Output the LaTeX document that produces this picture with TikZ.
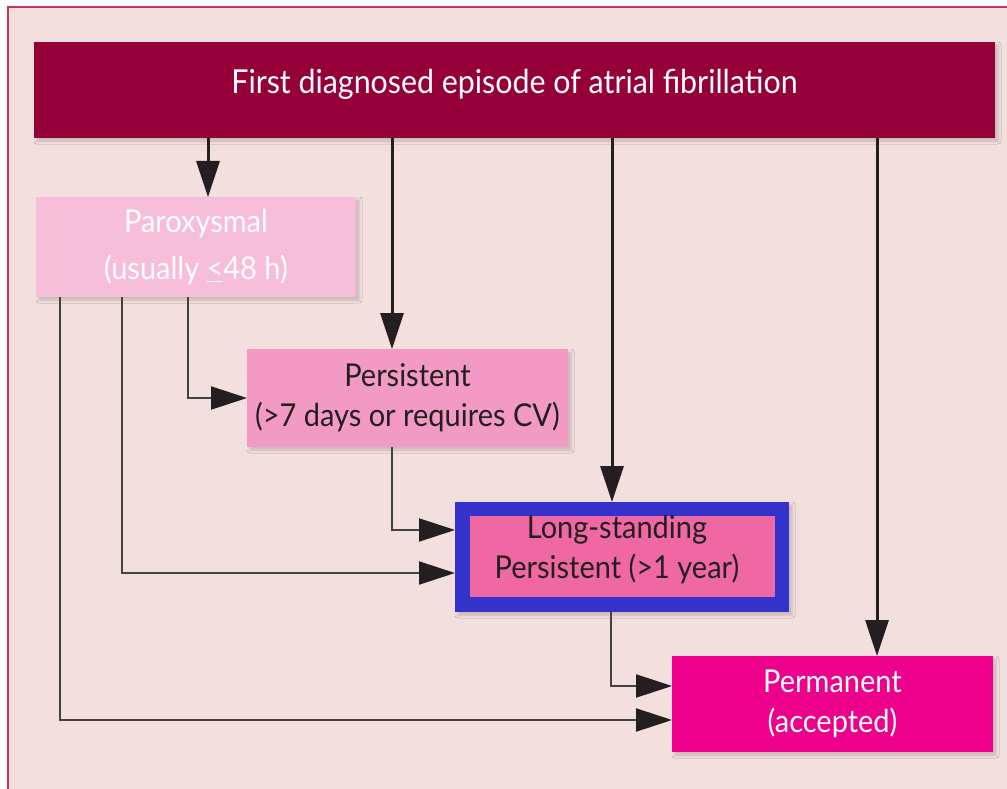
\documentclass[tikz,border=0pt]{standalone}
\usepackage{fontspec}
\setmainfont{Lato}
\newfontfamily\gill[FakeStretch=0.92]{Lato}
\usetikzlibrary{arrows.meta,shadows.blur}
\definecolor{bgpink}{HTML}{F3DFDE}
\definecolor{framecol}{HTML}{C8365A}
\definecolor{titlecol}{HTML}{950039}
\definecolor{parcol}{HTML}{F7BED9}
\definecolor{perscol}{HTML}{F39AC4}
\definecolor{lspink}{HTML}{EF67A3}
\definecolor{lsblue}{HTML}{3333CC}
\definecolor{permcol}{HTML}{EC008C}
\definecolor{ink}{HTML}{231F20}
\tikzset{
  box/.style={inner sep=0pt, outer sep=0pt, align=center,
    blur shadow={shadow xshift=3pt, shadow yshift=-3pt, shadow blur radius=3pt, shadow opacity=18}},
  bigfont/.style={font=\gill\fontsize{33}{40}\selectfont},
  midfont/.style={font=\gill\fontsize{31.5}{40}\selectfont},
  thickarr/.style={draw=ink, line width=3pt, -{Triangle[length=36pt,width=23pt]}},
  thinarr/.style={draw=ink!85, line width=2pt, -{Triangle[length=36pt,width=23pt,color=ink]}},
}
\begin{document}
\begin{tikzpicture}[x=1pt,y=-1pt]
\clip (0,0) rectangle (1007,789);
\fill[white] (0,0) rectangle (1007,789);
\draw[framecol, line width=1.5pt, fill=bgpink] (8,7) rectangle (1030,810);

\node[box, fill=titlecol, minimum width=961pt, minimum height=96pt, text=white, bigfont, text height=16pt, text depth=9pt] (title) at (514.5,90) {First diagnosed episode of atrial fibrillation};

\node[box, fill=parcol, minimum width=320pt, minimum height=100pt, text=white, font=\gill\fontsize{31.5}{47}\selectfont] (par) at (196,247) {Paroxysmal\\(usually \underline{<}48 h)};

\node[box, fill=perscol, minimum width=321pt, minimum height=98pt, text=ink, midfont] (pers) at (407.5,398) {Persistent\\(>7 days or requires CV)};

\node[box, fill=lsblue, minimum width=334pt, minimum height=110pt] (ls) at (622,557) {};
\node[inner sep=0pt, outer sep=0pt, fill=lspink, minimum width=305pt, minimum height=81pt, text=ink, align=center] (lsin) at (622.5,556.5) {};
\node[inner sep=0pt, text=ink, midfont, align=center] (lstext) at (617,550) {Long-standing\\Persistent (>1 year)};

\node[box, fill=permcol, minimum width=321pt, minimum height=96pt, text=white, midfont] (perm) at (832.5,704) {Permanent\\(accepted)};

% top arrows
\coordinate (a1) at ([xshift=12pt]par.north);
\coordinate (a2) at ([xshift=-15.5pt]pers.north);
\coordinate (a3) at ([xshift=-10pt]ls.north);
\coordinate (a4) at ([xshift=44.5pt]perm.north);
\draw[thickarr] (a1 |- title.south) -- (a1);
\draw[thickarr] (a2 |- title.south) -- (a2);
\draw[thickarr] (a3 |- title.south) -- (a3);
\draw[thickarr] (a4 |- title.south) -- (a4);

% from paroxysmal
\coordinate (p1) at ([xshift=-8pt]par.south);
\coordinate (p2) at ([xshift=-74pt]par.south);
\coordinate (p3) at ([xshift=-136pt]par.south);
\coordinate (l1) at ([yshift=-16pt]ls.west);
\coordinate (l2) at ([yshift=27pt]ls.west);
\coordinate (m1) at ([yshift=18pt]perm.west);
\coordinate (m2) at ([yshift=-16pt]perm.west);
\coordinate (s1) at ([xshift=-15.5pt]pers.south);
\coordinate (s2) at ([xshift=-11pt]ls.south);

\draw[thinarr] (p1) |- (pers.west);
\draw[thinarr] (p2) |- (l1);
\draw[thinarr] (p3) |- (m2);
\draw[thinarr] (s1) |- (l2);
\draw[thinarr] (s2) |- (m1);
\end{tikzpicture}
\end{document}
